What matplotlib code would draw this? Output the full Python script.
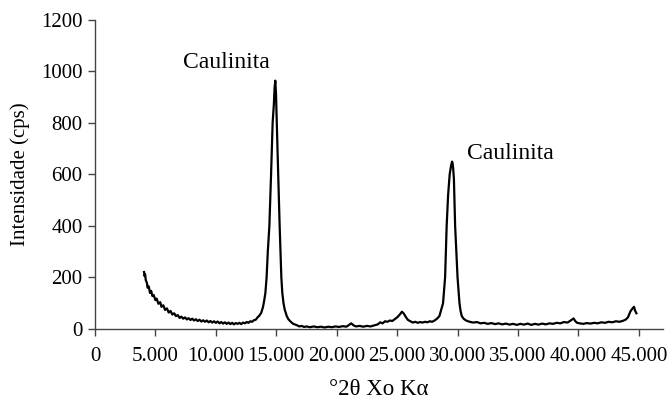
import matplotlib
matplotlib.use("Agg")
import matplotlib.pyplot as plt

plt.rcParams["font.family"] = ["Liberation Serif", "DejaVu Serif"]

# 2theta positions (degrees) and intensities (cps)
two_theta = [
    4.06, 4.10, 4.15, 4.20, 4.30, 4.35, 4.45, 4.55, 4.65, 4.75, 4.85, 5.00, 5.10,
    5.25, 5.40, 5.50, 5.65, 5.80, 5.95, 6.10, 6.25, 6.40, 6.55, 6.70, 6.85, 7.00,
    7.15, 7.30, 7.45, 7.60, 7.75, 7.90, 8.05, 8.20, 8.35, 8.50, 8.65, 8.80, 8.95,
    9.10, 9.25, 9.40, 9.55, 9.70, 9.85, 10.00, 10.15, 10.30, 10.45, 10.60, 10.75,
    10.90, 11.05, 11.20, 11.35, 11.50, 11.65, 11.80, 11.95, 12.10, 12.25, 12.40,
    12.55, 12.70, 12.85, 13.00, 13.15, 13.30, 13.45, 13.60, 13.75, 13.90, 14.00,
    14.10, 14.20, 14.30, 14.43, 14.57, 14.70, 14.80, 14.86, 14.92, 14.98, 15.04,
    15.10, 15.16, 15.28, 15.35, 15.42, 15.50, 15.60, 15.70, 15.87, 16.00, 16.20,
    16.40, 16.70, 16.90, 17.10, 17.30, 17.50, 17.80, 18.10, 18.40, 18.70, 19.00,
    19.30, 19.60, 19.90, 20.20, 20.50, 20.80, 21.00, 21.20, 21.40, 21.60, 21.90,
    22.20, 22.50, 22.80, 23.10, 23.40, 23.60, 23.80, 24.00, 24.20, 24.40, 24.60,
    24.80, 25.00, 25.20, 25.40, 25.55, 25.70, 25.90, 26.10, 26.30, 26.50, 26.70,
    26.90, 27.10, 27.30, 27.50, 27.70, 27.90, 28.10, 28.30, 28.50, 28.65, 28.80,
    28.97, 29.10, 29.22, 29.35, 29.47, 29.55, 29.60, 29.65, 29.70, 29.80, 29.90,
    30.00, 30.16, 30.25, 30.35, 30.50, 30.70, 31.00, 31.30, 31.60, 31.90, 32.20,
    32.50, 32.80, 33.10, 33.40, 33.70, 34.00, 34.30, 34.60, 34.90, 35.20, 35.50,
    35.80, 36.10, 36.40, 36.70, 37.00, 37.30, 37.60, 37.90, 38.20, 38.50, 38.80,
    39.10, 39.30, 39.50, 39.60, 39.75, 39.90, 40.10, 40.40, 40.70, 41.00, 41.30,
    41.60, 41.90, 42.20, 42.50, 42.80, 43.10, 43.40, 43.70, 43.90, 44.10, 44.30,
    44.45, 44.60, 44.70, 44.80,
]
intensity = [
    221, 205, 212, 190, 178, 160, 165, 140, 148, 128, 132, 112, 118,
    98, 104, 86, 92, 74, 80, 64, 70, 56, 61, 50, 54, 43,
    48, 40, 45, 37, 42, 35, 40, 33, 38, 31, 36, 29, 34,
    28, 33, 26, 31, 25, 30, 24, 29, 22, 27, 21, 26,
    20, 25, 19, 24, 18, 23, 20, 24, 19, 25, 22,
    27, 24, 30, 28, 34, 36, 45, 52, 62, 85, 110,
    140, 200, 300, 400, 600, 800, 870, 935, 963, 910, 800,
    700, 600, 400, 300, 200, 140, 100, 75, 50, 38, 28,
    20, 15, 10, 12, 8, 10, 7, 10, 7, 9, 6,
    9, 7, 10, 8, 11, 9, 15, 22, 14, 10, 12,
    9, 12, 10, 14, 18, 26, 22, 30, 28, 33, 31,
    38, 45, 55, 67, 60, 48, 35, 30, 25, 28, 24,
    27, 25, 28, 26, 30, 28, 33, 40, 50, 75, 100,
    200, 400, 520, 600, 635, 649, 640, 615, 580, 400, 300,
    200, 100, 70, 50, 40, 33, 28, 25, 27, 22, 24,
    20, 23, 19, 22, 18, 21, 17, 20, 16, 20, 17,
    21, 16, 20, 17, 21, 18, 22, 20, 24, 22, 27,
    25, 31, 38, 41, 30, 24, 22, 20, 23, 21, 24,
    22, 26, 24, 28, 26, 30, 28, 32, 36, 45, 68,
    78, 86, 70, 61,
]

x_ticks = [0, 5, 10, 15, 20, 25, 30, 35, 40, 45]
x_tick_labels = ["0", "5.000", "10.000", "15.000", "20.000", "25.000",
                 "30.000", "35.000", "40.000", "45.000"]
y_ticks = [0, 200, 400, 600, 800, 1000, 1200]

# peak labels: text, x, y
peak_labels = [("Caulinita", 10.9, 1035), ("Caulinita", 34.4, 679)]

fig = plt.figure(figsize=(6.68, 4.08), dpi=100)
ax = fig.add_axes([0.1422, 0.1936, 0.8503, 0.7586])

ax.plot(two_theta, intensity, color="black", linewidth=1.6)

ax.set_xlim(0, 47)
ax.set_ylim(0, 1200)
ax.set_xticks(x_ticks)
ax.set_xticklabels(x_tick_labels)
ax.set_yticks(y_ticks)

for spine in ["top", "right"]:
    ax.spines[spine].set_visible(False)
for spine in ["left", "bottom"]:
    ax.spines[spine].set_color("#444444")
    ax.spines[spine].set_linewidth(1.0)

ax.tick_params(direction="out", length=5, width=1.0, color="#444444",
               labelsize=15, pad=8)
ax.tick_params(axis="y", pad=4)

ax.set_ylabel("Intensidade (cps)", fontsize=15, labelpad=8)
ax.set_xlabel("°2θ Xo Kα", fontsize=16.5, labelpad=9)

for text, px, py in peak_labels:
    ax.text(px, py, text, fontsize=17, ha="center", va="center")

fig.savefig("out.png", dpi=100)
